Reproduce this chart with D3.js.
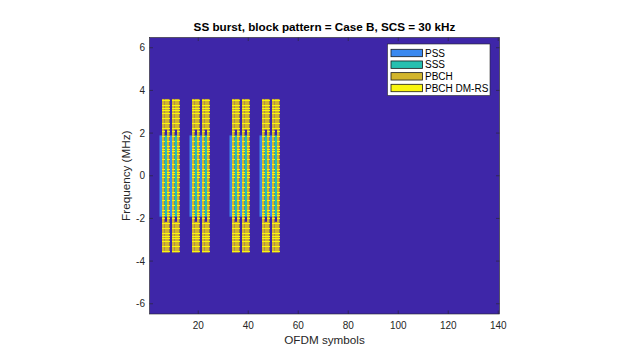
<!DOCTYPE html>
<html>
<head>
<meta charset="utf-8">
<script src="https://cdn.jsdelivr.net/npm/d3@7"></script>
<style>
  html, body { margin: 0; padding: 0; background: #ffffff; }
  svg { display: block; font-family: "Liberation Sans", Arial, Helvetica, sans-serif; }
</style>
</head>
<body>
<svg id="chart" width="640" height="360"></svg>
<script>
// ---------------- data ----------------
const titleText = "SS burst, block pattern = Case B, SCS = 30 kHz";
const xLabel = "OFDM symbols";
const yLabel = "Frequency (MHz)";
const numSymbols = 140;                 // OFDM symbols in the grid
const numSubcarriers = 432;             // 36 RB x 12
const scsMHz = 0.03;                    // 30 kHz
const ssbFirstSymbols = [4, 8, 16, 20, 32, 36, 44, 48]; // Case B, 0-based
const ssbSubcarrierOffset = 96;         // SSB (240 sc) centred in grid
const dmrsShift = 1;                    // v = NCellID mod 4
const xTicks = [20, 40, 60, 80, 100, 120, 140];
const yTicks = [-6, -4, -2, 0, 2, 4, 6];
const legendNames = ["PSS", "SSS", "PBCH", "PBCH DM-RS"];
// SSB components: [name, symbol within SSB, first subcarrier, last subcarrier]
const ssbComponents = [
  ["PSS", 0, 56, 182],
  ["PBCH", 1, 0, 239],
  ["SSS", 2, 56, 182],
  ["PBCH", 2, 0, 47],
  ["PBCH", 2, 192, 239],
  ["PBCH", 3, 0, 239]
];

// ---------------- styles ----------------
const colors = {
  background: "#3e26a8",
  "PSS": "#3a89f0",
  "SSS": "#27c0b0",
  "PBCH": "#d2b52c",
  "PBCH DM-RS": "#f9f510"
};
const W = 640, H = 360;
const plot = { left: 149.5, right: 499.5, top: 37.5, bottom: 314 };
const axisColor = "#262626";

const svg = d3.select("#chart");

const x = d3.scaleLinear().domain([0.5, numSymbols + 0.5]).range([plot.left, plot.right]);
const yMin = -numSubcarriers / 2 * scsMHz, yMax = numSubcarriers / 2 * scsMHz;
const y = d3.scaleLinear().domain([yMin, yMax]).range([plot.bottom, plot.top]);
const scF = n => (n - numSubcarriers / 2) * scsMHz; // lower edge of grid subcarrier n

// background (zero-valued grid)
svg.append("rect")
  .attr("x", x(0.5)).attr("y", y(yMax))
  .attr("width", x(numSymbols + 0.5) - x(0.5))
  .attr("height", y(yMin) - y(yMax))
  .attr("fill", colors.background);

// build cells
const blocks = [];
const dmrs = [];
ssbFirstSymbols.forEach(s0 => {
  ssbComponents.forEach(([name, sym, k0, k1]) => {
    const col = s0 + sym + 1; // 1-based symbol index
    blocks.push({ name, col, n0: ssbSubcarrierOffset + k0, n1: ssbSubcarrierOffset + k1 });
    if (name === "PBCH") {
      for (let k = k0; k <= k1; k++) {
        if (k % 4 === dmrsShift) dmrs.push({ col, n: ssbSubcarrierOffset + k });
      }
    }
  });
});

const g = svg.append("g");
g.selectAll("rect.blk").data(blocks).join("rect")
  .attr("class", "blk")
  .attr("x", d => x(d.col - 0.5))
  .attr("width", d => x(d.col + 0.5) - x(d.col - 0.5))
  .attr("y", d => y(scF(d.n1 + 1)))
  .attr("height", d => y(scF(d.n0)) - y(scF(d.n1 + 1)))
  .attr("fill", d => colors[d.name]);

g.selectAll("rect.dmrs").data(dmrs).join("rect")
  .attr("class", "dmrs")
  .attr("x", d => x(d.col - 0.5))
  .attr("width", d => x(d.col + 0.5) - x(d.col - 0.5))
  .attr("y", d => y(scF(d.n + 1)))
  .attr("height", d => y(scF(d.n)) - y(scF(d.n + 1)))
  .attr("fill", colors["PBCH DM-RS"])
  .attr("shape-rendering", "crispEdges");

// ---------------- axes ----------------
const tickLen = 3.5;
const axG = svg.append("g").attr("stroke", axisColor).attr("stroke-width", 0.6);
xTicks.forEach(t => {
  axG.append("line").attr("x1", x(t)).attr("x2", x(t)).attr("y1", plot.bottom).attr("y2", plot.bottom - tickLen);
  axG.append("line").attr("x1", x(t)).attr("x2", x(t)).attr("y1", plot.top).attr("y2", plot.top + tickLen);
});
yTicks.forEach(t => {
  axG.append("line").attr("x1", plot.left).attr("x2", plot.left + tickLen).attr("y1", y(t)).attr("y2", y(t));
  axG.append("line").attr("x1", plot.right).attr("x2", plot.right - tickLen).attr("y1", y(t)).attr("y2", y(t));
});
axG.append("rect")
  .attr("x", plot.left).attr("y", plot.top)
  .attr("width", plot.right - plot.left).attr("height", plot.bottom - plot.top)
  .attr("fill", "none");

svg.append("g").selectAll("text").data(xTicks).join("text")
  .attr("x", d => x(d)).attr("y", 328.5)
  .attr("text-anchor", "middle").attr("font-size", 10).attr("fill", axisColor)
  .text(d => d);
svg.append("g").selectAll("text").data(yTicks).join("text")
  .attr("x", 145).attr("y", d => y(d) + 3.6)
  .attr("text-anchor", "end").attr("font-size", 10).attr("fill", axisColor)
  .text(d => d);

svg.append("text").attr("x", (plot.left + plot.right) / 2).attr("y", 343.5)
  .attr("text-anchor", "middle").attr("font-size", 11.7).attr("fill", axisColor)
  .text(xLabel);
svg.append("text")
  .attr("transform", `translate(129.5, ${(plot.top + plot.bottom) / 2}) rotate(-90)`)
  .attr("text-anchor", "middle").attr("font-size", 11.7).attr("fill", axisColor)
  .text(yLabel);
svg.append("text").attr("x", (plot.left + plot.right) / 2).attr("y", 30.5)
  .attr("text-anchor", "middle").attr("font-size", 11.7).attr("font-weight", "bold").attr("fill", "#000")
  .text(titleText);

// ---------------- legend ----------------
const lg = svg.append("g");
const lgBox = { x: 387.5, y: 44, w: 102.5, h: 51.5 };
lg.append("rect").attr("x", lgBox.x).attr("y", lgBox.y).attr("width", lgBox.w).attr("height", lgBox.h)
  .attr("fill", "#ffffff").attr("stroke", axisColor).attr("stroke-width", 0.6);
const rowY = d3.scalePoint().domain(legendNames).range([53, 88]);
legendNames.forEach(name => {
  lg.append("rect").attr("x", 391).attr("y", rowY(name) - 3.7).attr("width", 31.5).attr("height", 7.4)
    .attr("fill", colors[name]).attr("stroke", "#1a1a1a").attr("stroke-width", 0.8);
  lg.append("text").attr("x", 425).attr("y", rowY(name) + 3.6)
    .attr("font-size", 10).attr("fill", "#000").text(name);
});
</script>
</body>
</html>
